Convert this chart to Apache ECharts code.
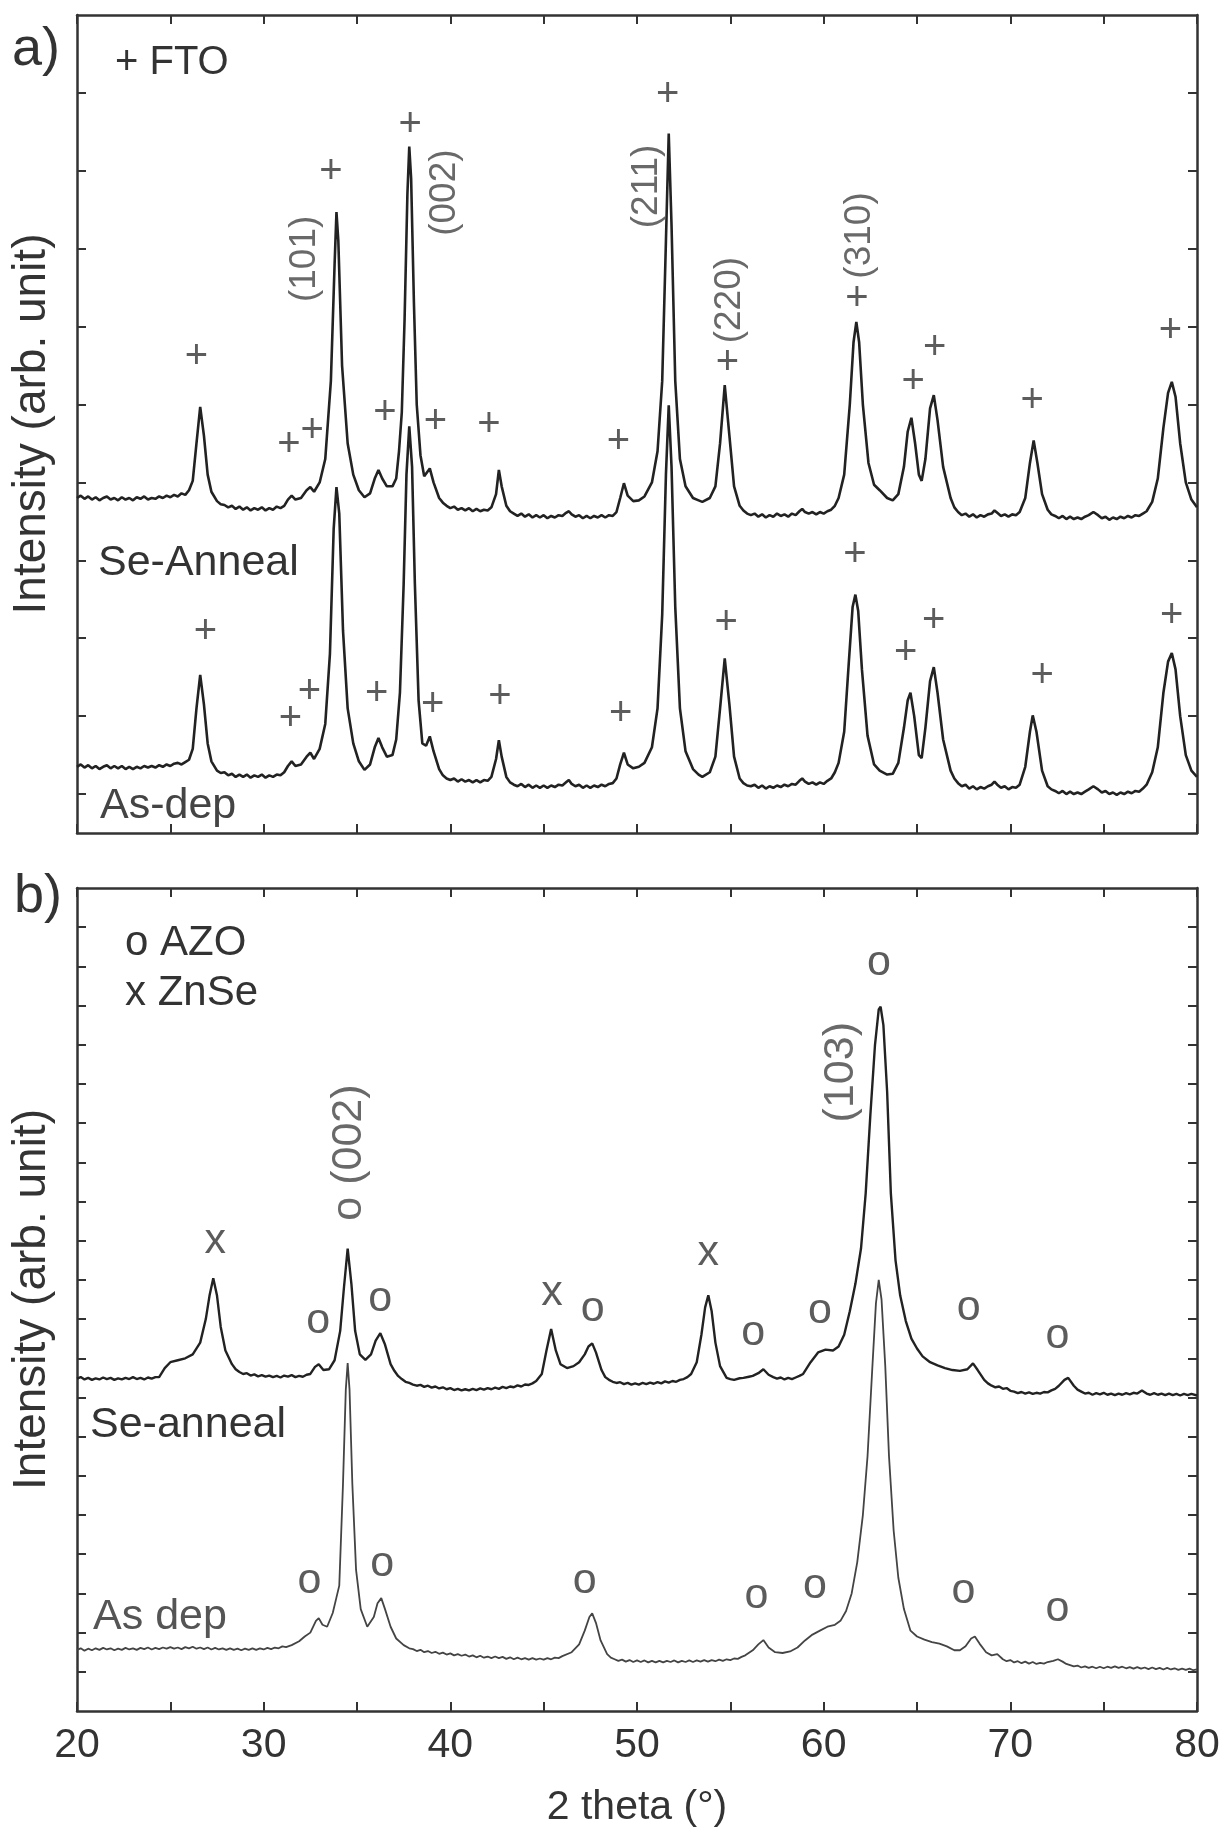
<!DOCTYPE html>
<html>
<head>
<meta charset="utf-8">
<title>XRD</title>
<style>
  html, body { margin: 0; padding: 0; background: #fff; }
</style>
</head>
<body>
<div id="container" style="width: 1225px;height:1829px;"></div>
<script src="https://cdn.jsdelivr.net/npm/echarts@6/dist/echarts.min.js"></script>
<script type="text/javascript">
'use strict'

// tick positions / labels
var xLabelValues = [20, 30, 40, 50, 60, 70, 80];
var yTicksA = [0.5, 1.5, 2.5, 3.5, 4.5, 5.5, 6.5, 7.5, 8.5, 9.5];
var yTicksB = [1, 2, 3, 4, 5, 6, 7, 8, 9, 10, 11, 12, 13, 14, 15, 16, 17, 18, 19, 20];

// panel a) FTO substrate, Se-Anneal (upper trace)
var seAnnealA = [
	[20.0, 4.30], [20.2, 4.33], [20.4, 4.29], [20.6, 4.32], [20.8, 4.28], [21.0, 4.31], [21.2, 4.27], [21.4, 4.30],
	[21.6, 4.32], [21.8, 4.28], [22.0, 4.30], [22.2, 4.27], [22.4, 4.31], [22.6, 4.28], [22.8, 4.30], [23.0, 4.27],
	[23.2, 4.31], [23.4, 4.29], [23.6, 4.32], [23.8, 4.28], [24.0, 4.30], [24.2, 4.29], [24.4, 4.32], [24.6, 4.30],
	[24.8, 4.33], [25.0, 4.31], [25.2, 4.34], [25.4, 4.32], [25.6, 4.36], [25.8, 4.34], [26.0, 4.40], [26.2, 4.52],
	[26.4, 5.0], [26.6, 5.47], [26.8, 5.1], [27.0, 4.6], [27.2, 4.38], [27.5, 4.26], [27.7, 4.22], [27.9, 4.21],
	[28.1, 4.18], [28.3, 4.2], [28.5, 4.16], [28.7, 4.19], [28.9, 4.15], [29.1, 4.18], [29.3, 4.14], [29.5, 4.17],
	[29.7, 4.15], [29.9, 4.18], [30.1, 4.14], [30.3, 4.17], [30.5, 4.15], [30.7, 4.19], [30.9, 4.17], [31.1, 4.2],
	[31.3, 4.28], [31.5, 4.33], [31.7, 4.28], [32.0, 4.3], [32.3, 4.4], [32.5, 4.44], [32.7, 4.38], [33.0, 4.5],
	[33.3, 4.8], [33.6, 5.8], [33.8, 7.3], [33.9, 7.97], [34.0, 7.6], [34.2, 6.0], [34.5, 5.0], [34.8, 4.6],
	[35.1, 4.4], [35.4, 4.31], [35.7, 4.36], [35.95, 4.55], [36.15, 4.66], [36.35, 4.55], [36.6, 4.45], [36.9, 4.45],
	[37.1, 4.55], [37.25, 4.9], [37.4, 5.4], [37.55, 6.6], [37.7, 8.2], [37.8, 8.81], [37.9, 8.4], [38.05, 6.8],
	[38.2, 5.5], [38.4, 4.85], [38.6, 4.58], [38.9, 4.68], [39.1, 4.5], [39.4, 4.3], [39.6, 4.24], [39.8, 4.2],
	[40.0, 4.17], [40.2, 4.19], [40.4, 4.15], [40.6, 4.17], [40.8, 4.14], [41.0, 4.17], [41.2, 4.13], [41.4, 4.16],
	[41.6, 4.13], [41.8, 4.15], [42.0, 4.14], [42.2, 4.18], [42.45, 4.35], [42.6, 4.66], [42.75, 4.45], [43.0, 4.2],
	[43.2, 4.13], [43.4, 4.1], [43.6, 4.07], [43.8, 4.1], [44.0, 4.06], [44.2, 4.09], [44.4, 4.05], [44.6, 4.08],
	[44.8, 4.05], [45.0, 4.08], [45.2, 4.04], [45.4, 4.07], [45.6, 4.05], [45.8, 4.08], [46.0, 4.07], [46.2, 4.11],
	[46.35, 4.13], [46.5, 4.09], [46.7, 4.06], [46.9, 4.08], [47.1, 4.04], [47.3, 4.07], [47.5, 4.04], [47.7, 4.07],
	[47.9, 4.05], [48.1, 4.08], [48.3, 4.05], [48.5, 4.08], [48.7, 4.07], [48.9, 4.12], [49.1, 4.3], [49.3, 4.49],
	[49.5, 4.33], [49.8, 4.26], [50.1, 4.27], [50.4, 4.32], [50.8, 4.5], [51.1, 4.9], [51.35, 5.8], [51.55, 7.6],
	[51.7, 8.98], [51.85, 7.8], [52.05, 5.8], [52.3, 4.8], [52.6, 4.45], [53.0, 4.3], [53.3, 4.27], [53.5, 4.25],
	[53.9, 4.3], [54.2, 4.45], [54.45, 5.0], [54.7, 5.75], [54.95, 5.1], [55.2, 4.45], [55.5, 4.2], [55.7, 4.14],
	[55.9, 4.1], [56.1, 4.08], [56.3, 4.1], [56.5, 4.06], [56.7, 4.09], [56.9, 4.05], [57.1, 4.08], [57.3, 4.06],
	[57.5, 4.1], [57.7, 4.07], [57.9, 4.09], [58.1, 4.06], [58.3, 4.1], [58.5, 4.08], [58.7, 4.13], [58.85, 4.16],
	[59.0, 4.12], [59.2, 4.1], [59.4, 4.12], [59.6, 4.09], [59.8, 4.12], [60.0, 4.1], [60.2, 4.13], [60.4, 4.15],
	[60.6, 4.2], [60.8, 4.3], [61.1, 4.6], [61.4, 5.5], [61.6, 6.3], [61.75, 6.56], [61.9, 6.3], [62.1, 5.5],
	[62.4, 4.75], [62.7, 4.47], [63.0, 4.4], [63.4, 4.3], [63.7, 4.27], [64.0, 4.35], [64.3, 4.7], [64.5, 5.15],
	[64.7, 5.33], [64.9, 5.0], [65.1, 4.6], [65.25, 4.52], [65.45, 4.8], [65.7, 5.45], [65.9, 5.62], [66.1, 5.3],
	[66.4, 4.7], [66.8, 4.3], [67.0, 4.18], [67.2, 4.12], [67.4, 4.08], [67.6, 4.1], [67.8, 4.06], [68.0, 4.09],
	[68.2, 4.05], [68.4, 4.08], [68.6, 4.06], [68.8, 4.09], [69.0, 4.1], [69.15, 4.14], [69.3, 4.11], [69.5, 4.07],
	[69.7, 4.09], [69.9, 4.06], [70.1, 4.09], [70.3, 4.08], [70.5, 4.12], [70.8, 4.3], [71.05, 4.75], [71.25, 5.04],
	[71.45, 4.75], [71.7, 4.35], [72.0, 4.15], [72.2, 4.09], [72.4, 4.07], [72.6, 4.04], [72.8, 4.07], [73.0, 4.03],
	[73.2, 4.06], [73.4, 4.03], [73.6, 4.05], [73.8, 4.03], [74.0, 4.06], [74.2, 4.08], [74.45, 4.12], [74.7, 4.08],
	[74.9, 4.04], [75.1, 4.06], [75.3, 4.02], [75.5, 4.05], [75.7, 4.03], [75.9, 4.06], [76.1, 4.04], [76.3, 4.07],
	[76.5, 4.05], [76.7, 4.08], [76.9, 4.07], [77.1, 4.1], [77.3, 4.13], [77.6, 4.25], [77.9, 4.55], [78.2, 5.2],
	[78.45, 5.65], [78.65, 5.79], [78.85, 5.6], [79.1, 5.0], [79.4, 4.5], [79.7, 4.28], [80.0, 4.18]
];

// panel a) As-dep (lower trace)
var asDepA = [
	[20.0, 0.85], [20.2, 0.88], [20.4, 0.84], [20.6, 0.87], [20.8, 0.83], [21.0, 0.86], [21.2, 0.82], [21.4, 0.85],
	[21.6, 0.87], [21.8, 0.83], [22.0, 0.86], [22.2, 0.83], [22.4, 0.86], [22.6, 0.82], [22.8, 0.85], [23.0, 0.82],
	[23.2, 0.85], [23.4, 0.83], [23.6, 0.86], [23.8, 0.84], [24.0, 0.86], [24.2, 0.84], [24.4, 0.87], [24.6, 0.85],
	[24.8, 0.88], [25.0, 0.86], [25.2, 0.89], [25.4, 0.9], [25.6, 0.88], [25.8, 0.91], [26.0, 0.94], [26.2, 1.08],
	[26.4, 1.6], [26.6, 2.03], [26.8, 1.65], [27.0, 1.15], [27.2, 0.92], [27.5, 0.8], [27.7, 0.77], [27.9, 0.78],
	[28.1, 0.74], [28.3, 0.76], [28.5, 0.72], [28.7, 0.75], [28.9, 0.72], [29.1, 0.75], [29.3, 0.71], [29.5, 0.74],
	[29.7, 0.72], [29.9, 0.75], [30.1, 0.71], [30.3, 0.74], [30.5, 0.72], [30.7, 0.75], [30.9, 0.74], [31.1, 0.78],
	[31.3, 0.86], [31.5, 0.92], [31.7, 0.86], [32.0, 0.88], [32.3, 0.98], [32.5, 1.03], [32.7, 0.95], [33.0, 1.08],
	[33.3, 1.4], [33.55, 2.3], [33.75, 3.9], [33.9, 4.44], [34.05, 4.1], [34.25, 2.6], [34.5, 1.6], [34.8, 1.15],
	[35.1, 0.92], [35.4, 0.81], [35.7, 0.88], [35.95, 1.1], [36.15, 1.22], [36.35, 1.1], [36.6, 0.98], [36.9, 1.0],
	[37.1, 1.2], [37.3, 1.8], [37.5, 3.2], [37.65, 4.6], [37.8, 5.22], [37.95, 4.7], [38.1, 3.2], [38.3, 1.7],
	[38.5, 1.15], [38.7, 1.12], [38.9, 1.24], [39.1, 1.05], [39.4, 0.82], [39.6, 0.74], [39.8, 0.7], [40.0, 0.68],
	[40.2, 0.7], [40.4, 0.66], [40.6, 0.69], [40.8, 0.66], [41.0, 0.68], [41.2, 0.65], [41.4, 0.68], [41.6, 0.65],
	[41.8, 0.68], [42.0, 0.67], [42.2, 0.72], [42.45, 0.95], [42.6, 1.19], [42.75, 0.98], [43.0, 0.72], [43.2, 0.65],
	[43.4, 0.62], [43.6, 0.6], [43.8, 0.63], [44.0, 0.59], [44.2, 0.62], [44.4, 0.58], [44.6, 0.61], [44.8, 0.58],
	[45.0, 0.61], [45.2, 0.58], [45.4, 0.61], [45.6, 0.59], [45.8, 0.62], [46.0, 0.61], [46.2, 0.65], [46.35, 0.68],
	[46.5, 0.63], [46.7, 0.6], [46.9, 0.62], [47.1, 0.58], [47.3, 0.61], [47.5, 0.58], [47.7, 0.61], [47.9, 0.59],
	[48.1, 0.62], [48.3, 0.6], [48.5, 0.63], [48.7, 0.64], [48.9, 0.7], [49.1, 0.88], [49.3, 1.03], [49.5, 0.88],
	[49.8, 0.83], [50.1, 0.85], [50.4, 0.9], [50.8, 1.1], [51.1, 1.6], [51.35, 2.8], [51.55, 4.6], [51.7, 5.49],
	[51.85, 4.7], [52.05, 2.9], [52.3, 1.6], [52.6, 1.05], [53.0, 0.82], [53.3, 0.75], [53.5, 0.72], [53.9, 0.78],
	[54.2, 0.98], [54.45, 1.6], [54.7, 2.24], [54.95, 1.65], [55.2, 0.98], [55.5, 0.7], [55.7, 0.64], [55.9, 0.61],
	[56.1, 0.6], [56.3, 0.62], [56.5, 0.58], [56.7, 0.61], [56.9, 0.57], [57.1, 0.6], [57.3, 0.58], [57.5, 0.61],
	[57.7, 0.59], [57.9, 0.62], [58.1, 0.6], [58.3, 0.63], [58.5, 0.62], [58.7, 0.67], [58.85, 0.7], [59.0, 0.66],
	[59.2, 0.63], [59.4, 0.65], [59.6, 0.62], [59.8, 0.65], [60.0, 0.63], [60.2, 0.67], [60.4, 0.7], [60.6, 0.78],
	[60.8, 0.9], [61.1, 1.3], [61.35, 2.2], [61.55, 2.9], [61.7, 3.06], [61.85, 2.85], [62.05, 2.1], [62.35, 1.25],
	[62.7, 0.88], [63.0, 0.8], [63.4, 0.75], [63.7, 0.76], [64.0, 0.9], [64.3, 1.35], [64.5, 1.7], [64.65, 1.8],
	[64.85, 1.5], [65.1, 1.0], [65.25, 0.96], [65.45, 1.35], [65.7, 1.95], [65.9, 2.13], [66.1, 1.8], [66.4, 1.2],
	[66.8, 0.8], [67.0, 0.7], [67.2, 0.64], [67.4, 0.6], [67.6, 0.62], [67.8, 0.57], [68.0, 0.6], [68.2, 0.56],
	[68.4, 0.59], [68.6, 0.57], [68.8, 0.6], [69.0, 0.62], [69.15, 0.66], [69.3, 0.62], [69.5, 0.58], [69.7, 0.6],
	[69.9, 0.56], [70.1, 0.59], [70.3, 0.58], [70.5, 0.62], [70.8, 0.85], [71.05, 1.3], [71.2, 1.51], [71.4, 1.3],
	[71.7, 0.8], [72.0, 0.6], [72.2, 0.56], [72.4, 0.54], [72.6, 0.51], [72.8, 0.54], [73.0, 0.5], [73.2, 0.53],
	[73.4, 0.5], [73.6, 0.52], [73.8, 0.5], [74.0, 0.53], [74.2, 0.56], [74.45, 0.6], [74.7, 0.56], [74.9, 0.52],
	[75.1, 0.54], [75.3, 0.5], [75.5, 0.52], [75.7, 0.49], [75.9, 0.52], [76.1, 0.5], [76.3, 0.53], [76.5, 0.51],
	[76.7, 0.54], [76.9, 0.53], [77.1, 0.57], [77.3, 0.62], [77.6, 0.78], [77.9, 1.1], [78.2, 1.8], [78.45, 2.2],
	[78.65, 2.31], [78.85, 2.1], [79.1, 1.5], [79.4, 1.0], [79.7, 0.8], [80.0, 0.72]
];

// panel b) AZO substrate, Se-anneal (upper trace)
var seAnnealB = [
	[20.0, 8.48], [20.2, 8.52], [20.4, 8.46], [20.6, 8.5], [20.8, 8.45], [21.0, 8.49], [21.2, 8.46], [21.4, 8.51],
	[21.6, 8.47], [21.8, 8.5], [22.0, 8.45], [22.2, 8.49], [22.4, 8.46], [22.6, 8.5], [22.8, 8.47], [23.0, 8.52],
	[23.2, 8.47], [23.4, 8.5], [23.6, 8.46], [23.8, 8.51], [24.0, 8.48], [24.2, 8.52], [24.4, 8.52], [24.7, 8.75],
	[25.0, 8.9], [25.4, 8.95], [25.8, 9.0], [26.2, 9.1], [26.6, 9.4], [26.9, 10.0], [27.1, 10.6], [27.3, 11.04],
	[27.5, 10.6], [27.7, 9.8], [27.95, 9.2], [28.3, 8.85], [28.5, 8.72], [28.7, 8.65], [28.9, 8.6], [29.1, 8.62],
	[29.3, 8.56], [29.5, 8.59], [29.7, 8.54], [29.9, 8.57], [30.1, 8.53], [30.3, 8.56], [30.5, 8.52], [30.7, 8.55],
	[30.9, 8.51], [31.1, 8.56], [31.3, 8.53], [31.5, 8.57], [31.7, 8.52], [31.9, 8.55], [32.1, 8.53], [32.3, 8.58],
	[32.5, 8.6], [32.75, 8.78], [32.95, 8.85], [33.2, 8.7], [33.5, 8.72], [33.8, 8.95], [34.1, 9.7], [34.3, 10.8],
	[34.5, 11.8], [34.7, 10.9], [34.9, 9.7], [35.15, 9.1], [35.45, 8.96], [35.75, 9.1], [36.0, 9.45], [36.25, 9.64],
	[36.5, 9.35], [36.8, 8.85], [37.0, 8.68], [37.2, 8.55], [37.4, 8.47], [37.6, 8.4], [37.8, 8.37], [38.0, 8.33],
	[38.2, 8.3], [38.4, 8.32], [38.6, 8.27], [38.8, 8.3], [39.0, 8.25], [39.2, 8.28], [39.4, 8.23], [39.6, 8.26],
	[39.8, 8.21], [40.0, 8.24], [40.2, 8.19], [40.4, 8.22], [40.6, 8.18], [40.8, 8.21], [41.0, 8.18], [41.2, 8.22],
	[41.4, 8.19], [41.6, 8.23], [41.8, 8.2], [42.0, 8.24], [42.2, 8.21], [42.4, 8.25], [42.6, 8.22], [42.8, 8.27],
	[43.0, 8.24], [43.2, 8.28], [43.4, 8.26], [43.6, 8.31], [43.8, 8.28], [44.0, 8.33], [44.2, 8.32], [44.4, 8.36],
	[44.6, 8.42], [44.9, 8.6], [45.15, 9.2], [45.4, 9.75], [45.65, 9.2], [45.9, 8.85], [46.25, 8.75], [46.6, 8.8],
	[46.9, 8.9], [47.2, 9.1], [47.4, 9.3], [47.6, 9.38], [47.8, 9.15], [48.1, 8.7], [48.3, 8.52], [48.5, 8.45],
	[48.7, 8.4], [48.9, 8.37], [49.1, 8.39], [49.3, 8.34], [49.5, 8.37], [49.7, 8.33], [49.9, 8.36], [50.1, 8.33],
	[50.3, 8.37], [50.5, 8.34], [50.7, 8.38], [50.9, 8.35], [51.1, 8.39], [51.3, 8.36], [51.5, 8.41], [51.7, 8.38],
	[51.9, 8.42], [52.1, 8.4], [52.3, 8.45], [52.5, 8.47], [52.7, 8.52], [52.9, 8.6], [53.2, 8.9], [53.45, 9.6],
	[53.65, 10.3], [53.82, 10.61], [54.0, 10.2], [54.2, 9.4], [54.45, 8.8], [54.8, 8.5], [55.0, 8.47], [55.2, 8.45],
	[55.5, 8.49], [55.7, 8.5], [56.0, 8.53], [56.2, 8.55], [56.5, 8.62], [56.77, 8.72], [57.05, 8.58], [57.3, 8.52],
	[57.5, 8.48], [57.7, 8.51], [57.9, 8.46], [58.1, 8.5], [58.3, 8.47], [58.5, 8.51], [58.7, 8.55], [58.9, 8.6],
	[59.3, 8.9], [59.7, 9.15], [60.1, 9.22], [60.5, 9.2], [60.8, 9.3], [61.1, 9.6], [61.4, 10.2], [61.7, 10.9],
	[62.0, 11.8], [62.25, 13.2], [62.5, 15.2], [62.75, 17.0], [62.95, 17.9], [63.05, 17.97], [63.2, 17.5], [63.4, 15.8],
	[63.6, 13.2], [63.85, 11.5], [64.1, 10.6], [64.4, 9.95], [64.7, 9.5], [65.0, 9.25], [65.3, 9.05], [65.7, 8.9],
	[66.1, 8.82], [66.5, 8.75], [66.9, 8.7], [67.3, 8.68], [67.7, 8.72], [68.0, 8.87], [68.25, 8.7], [68.6, 8.45],
	[68.8, 8.36], [69.0, 8.3], [69.2, 8.26], [69.4, 8.28], [69.6, 8.22], [69.8, 8.24], [70.0, 8.17], [70.2, 8.15],
	[70.4, 8.11], [70.6, 8.14], [70.8, 8.1], [71.0, 8.13], [71.2, 8.09], [71.4, 8.12], [71.6, 8.1], [71.8, 8.14],
	[72.0, 8.13], [72.2, 8.18], [72.4, 8.22], [72.6, 8.3], [72.9, 8.45], [73.1, 8.5], [73.4, 8.3], [73.6, 8.2],
	[73.8, 8.15], [74.0, 8.1], [74.2, 8.12], [74.4, 8.07], [74.6, 8.11], [74.8, 8.08], [75.0, 8.12], [75.2, 8.07],
	[75.4, 8.1], [75.6, 8.06], [75.8, 8.1], [76.0, 8.07], [76.2, 8.11], [76.4, 8.08], [76.6, 8.12], [76.8, 8.1],
	[77.05, 8.18], [77.3, 8.1], [77.5, 8.07], [77.7, 8.11], [77.9, 8.07], [78.1, 8.1], [78.3, 8.06], [78.5, 8.1],
	[78.7, 8.06], [78.9, 8.09], [79.1, 8.05], [79.3, 8.09], [79.5, 8.06], [79.7, 8.09], [80.0, 8.05]
];

// panel b) As dep (lower trace)
var asDepB = [
	[20.0, 1.56], [20.2, 1.6], [20.4, 1.54], [20.6, 1.59], [20.8, 1.55], [21.0, 1.6], [21.2, 1.56], [21.4, 1.61],
	[21.6, 1.57], [21.8, 1.6], [22.0, 1.55], [22.2, 1.59], [22.4, 1.56], [22.6, 1.61], [22.8, 1.57], [23.0, 1.6],
	[23.2, 1.56], [23.4, 1.61], [23.6, 1.58], [23.8, 1.62], [24.0, 1.57], [24.2, 1.61], [24.4, 1.58], [24.6, 1.62],
	[24.8, 1.59], [25.0, 1.63], [25.2, 1.59], [25.4, 1.62], [25.6, 1.58], [25.8, 1.63], [26.0, 1.6], [26.2, 1.64],
	[26.4, 1.59], [26.6, 1.62], [26.8, 1.58], [27.0, 1.62], [27.2, 1.57], [27.4, 1.61], [27.6, 1.57], [27.8, 1.6],
	[28.0, 1.56], [28.2, 1.6], [28.4, 1.56], [28.6, 1.59], [28.8, 1.55], [29.0, 1.59], [29.2, 1.56], [29.4, 1.6],
	[29.6, 1.56], [29.8, 1.6], [30.0, 1.57], [30.2, 1.61], [30.4, 1.58], [30.6, 1.62], [30.8, 1.6], [31.0, 1.65],
	[31.2, 1.63], [31.5, 1.68], [31.9, 1.78], [32.2, 1.9], [32.5, 2.0], [32.8, 2.3], [32.95, 2.37], [33.15, 2.2],
	[33.4, 2.15], [33.7, 2.5], [33.9, 2.9], [34.05, 3.2], [34.25, 5.8], [34.4, 8.2], [34.5, 8.88], [34.6, 8.2],
	[34.75, 5.8], [34.95, 3.6], [35.2, 2.6], [35.55, 2.15], [35.9, 2.4], [36.1, 2.75], [36.3, 2.88], [36.5, 2.6],
	[36.8, 2.15], [37.1, 1.85], [37.5, 1.68], [37.8, 1.6], [38.0, 1.58], [38.2, 1.53], [38.4, 1.56], [38.6, 1.5],
	[38.8, 1.53], [39.0, 1.48], [39.2, 1.51], [39.4, 1.46], [39.6, 1.49], [39.8, 1.44], [40.0, 1.47], [40.2, 1.42],
	[40.4, 1.45], [40.6, 1.41], [40.8, 1.44], [41.0, 1.39], [41.2, 1.42], [41.4, 1.37], [41.6, 1.41], [41.8, 1.36],
	[42.0, 1.39], [42.2, 1.35], [42.4, 1.39], [42.6, 1.35], [42.8, 1.38], [43.0, 1.33], [43.2, 1.37], [43.4, 1.32],
	[43.6, 1.36], [43.8, 1.32], [44.0, 1.35], [44.2, 1.31], [44.4, 1.35], [44.6, 1.31], [44.8, 1.34], [45.0, 1.31],
	[45.2, 1.35], [45.4, 1.32], [45.6, 1.36], [45.8, 1.35], [46.0, 1.4], [46.5, 1.5], [46.9, 1.7], [47.2, 2.05],
	[47.45, 2.4], [47.6, 2.49], [47.8, 2.25], [48.05, 1.8], [48.4, 1.45], [48.6, 1.36], [48.8, 1.32], [49.0, 1.28],
	[49.2, 1.31], [49.4, 1.26], [49.6, 1.3], [49.8, 1.25], [50.0, 1.29], [50.2, 1.25], [50.4, 1.29], [50.6, 1.24],
	[50.8, 1.28], [51.0, 1.24], [51.2, 1.28], [51.4, 1.24], [51.6, 1.28], [51.8, 1.25], [52.0, 1.29], [52.2, 1.24],
	[52.4, 1.28], [52.6, 1.25], [52.8, 1.29], [53.0, 1.25], [53.2, 1.29], [53.4, 1.26], [53.6, 1.3], [53.8, 1.26],
	[54.0, 1.3], [54.2, 1.27], [54.4, 1.31], [54.6, 1.28], [54.8, 1.32], [55.0, 1.3], [55.2, 1.34], [55.4, 1.33],
	[55.6, 1.38], [55.8, 1.42], [56.2, 1.55], [56.5, 1.7], [56.77, 1.81], [57.05, 1.62], [57.4, 1.5], [57.8, 1.48],
	[58.2, 1.52], [58.6, 1.62], [59.0, 1.8], [59.4, 1.95], [59.8, 2.05], [60.2, 2.15], [60.6, 2.2], [60.9, 2.3],
	[61.2, 2.55], [61.5, 3.0], [61.8, 3.8], [62.1, 5.0], [62.35, 6.5], [62.6, 8.7], [62.8, 10.4], [62.95, 11.0],
	[63.1, 10.5], [63.3, 8.8], [63.5, 6.5], [63.75, 4.6], [64.0, 3.4], [64.3, 2.6], [64.65, 2.05], [65.0, 1.9],
	[65.4, 1.82], [65.8, 1.76], [66.2, 1.72], [66.6, 1.65], [67.0, 1.55], [67.3, 1.55], [67.6, 1.65], [67.9, 1.85],
	[68.1, 1.9], [68.35, 1.72], [68.7, 1.5], [69.0, 1.42], [69.3, 1.45], [69.6, 1.32], [69.8, 1.27], [70.0, 1.3],
	[70.2, 1.24], [70.4, 1.27], [70.6, 1.22], [70.8, 1.26], [71.0, 1.21], [71.2, 1.25], [71.4, 1.2], [71.6, 1.23],
	[71.8, 1.21], [72.0, 1.25], [72.3, 1.28], [72.55, 1.32], [72.8, 1.26], [73.0, 1.2], [73.2, 1.17], [73.4, 1.14],
	[73.6, 1.16], [73.8, 1.11], [74.0, 1.14], [74.2, 1.1], [74.4, 1.13], [74.6, 1.09], [74.8, 1.13], [75.0, 1.09],
	[75.2, 1.13], [75.4, 1.1], [75.6, 1.14], [75.8, 1.1], [76.0, 1.13], [76.2, 1.09], [76.4, 1.12], [76.6, 1.08],
	[76.8, 1.12], [77.0, 1.08], [77.2, 1.11], [77.4, 1.07], [77.6, 1.11], [77.8, 1.07], [78.0, 1.1], [78.2, 1.06],
	[78.4, 1.1], [78.6, 1.06], [78.8, 1.09], [79.0, 1.05], [79.2, 1.08], [79.4, 1.05], [79.6, 1.08], [79.8, 1.04],
	[80.0, 1.06]
];

// peak markers: "+" FTO in panel a
var plusA = [
	[26.4, 6.11], [31.35, 4.98], [32.6, 5.16], [33.6, 8.48], [36.5, 5.39], [37.85, 9.09], [39.2, 5.28], [42.07, 5.24],
	[49.0, 5.02], [51.64, 9.47], [54.84, 6.03], [61.78, 6.86], [64.8, 5.79], [65.95, 6.22], [71.17, 5.54], [78.58, 6.44],
	[26.88, 2.58], [31.44, 1.47], [32.45, 1.81], [36.05, 1.79], [39.06, 1.64], [42.66, 1.75], [49.12, 1.53],
	[54.78, 2.69], [61.67, 3.57], [64.4, 2.31], [65.9, 2.72], [71.7, 2.02], [78.65, 2.79]
];
// hkl labels panel a: [text, 2theta, y]
var hklA = [['(101)', 32.2, 7.37], ['(002)', 39.7, 8.22], ['(211)', 50.5, 8.3], ['(220)', 54.95, 6.84], ['(310)', 61.93, 7.67]];

// panel b markers: "o" AZO, "x" ZnSe
var circB = [
	[32.92, 9.85], [36.24, 10.4], [47.63, 10.15], [56.23, 9.55], [59.8, 10.1], [62.96, 18.99], [67.77, 10.19], [72.52, 9.47],
	[32.45, 3.22], [36.35, 3.64], [47.2, 3.22], [56.4, 2.83], [59.54, 3.09], [67.49, 2.96], [72.52, 2.49]
];
var crossB = [[27.41, 11.89], [45.45, 10.57], [53.82, 11.59]];
var hklB = [['o (002)', 34.6, 14.25], ['(103)', 60.92, 16.3]];

var FONT = 'Liberation Sans, Arial, Helvetica, sans-serif';
var TXT = '#333';
var HIDE = 'rgba(0,0,0,0)';

function lbl(arr) {
	return arr.map(function (d) { return { name: d[0], value: [d[1], d[2]] }; });
}

function markSeries(xi, data, ch, size, dy) {
	return {
		type: 'scatter', xAxisIndex: xi, yAxisIndex: xi, data: data, silent: true,
		symbolSize: 1, itemStyle: { color: HIDE },
		label: {
			show: true, position: 'inside', formatter: ch, offset: [0, dy],
			fontFamily: FONT, fontSize: size, color: TXT, align: 'center', verticalAlign: 'middle'
		},
		z: 5
	};
}

function textSeries(xi, data, size) {
	return {
		type: 'scatter', xAxisIndex: xi, yAxisIndex: xi, data: lbl(data), silent: true,
		symbolSize: 1, itemStyle: { color: HIDE },
		label: {
			show: true, position: 'inside', formatter: '{b}', rotate: 90,
			fontFamily: FONT, fontSize: size, color: '#444', align: 'center', verticalAlign: 'middle'
		},
		z: 5
	};
}

function lineSeries(xi, data, color, width) {
	return {
		type: 'line', xAxisIndex: xi, yAxisIndex: xi, data: data, showSymbol: false, silent: true,
		lineStyle: { color: color, width: width }, z: 3
	};
}

var frameLine = { show: true, onZero: false, lineStyle: { color: '#333', width: 2.5 } };
var tickLine = { color: '#333', width: 2 };

function xAxisDef(gi, pos, labels) {
	return {
		type: 'value', gridIndex: gi, position: pos, min: 20, max: 80, interval: 5,
		axisLine: frameLine,
		axisTick: { show: true, inside: true, length: 9, lineStyle: tickLine },
		axisLabel: {
			show: labels, margin: 14, fontFamily: FONT, fontSize: 41, color: TXT,
			formatter: function (v) { return xLabelValues.indexOf(v) >= 0 ? String(v) : ''; }
		},
		splitLine: { show: false }
	};
}

function yAxisDef(gi, pos, max, ticks) {
	return {
		type: 'value', gridIndex: gi, position: pos, min: 0, max: max,
		axisLine: frameLine,
		axisTick: { show: true, inside: true, length: 9, customValues: ticks, lineStyle: tickLine },
		axisLabel: { show: false },
		splitLine: { show: false }
	};
}

var myCharts = echarts.init(document.getElementById('container'));

var xa0 = xAxisDef(0, 'bottom', false);
var xa2 = xAxisDef(1, 'bottom', true);
xa2.name = '2 theta (°)';
xa2.nameLocation = 'middle';
xa2.nameGap = 76;
xa2.nameTextStyle = { fontFamily: FONT, fontSize: 41, color: TXT };

var ya0 = yAxisDef(0, 'left', 10.5, yTicksA);
var ya2 = yAxisDef(1, 'left', 21, yTicksB);
[ya0, ya2].forEach(function (a) {
	a.name = 'Intensity (arb. unit)';
	a.nameLocation = 'middle';
	a.nameRotate = 90;
	a.nameGap = 22;
	a.nameTextStyle = { fontFamily: FONT, fontSize: 46, color: TXT };
});

function gtext(x, y, s, size, color) {
	return {
		type: 'text', left: x, top: y - size / 2,
		style: { text: s, fontFamily: FONT, fontSize: size, fill: color || TXT }
	};
}

var option = {
	animation: false,
	backgroundColor: '#fff',
	grid: [
		{ left: 77, top: 15, width: 1120, height: 818 },
		{ left: 77, top: 888, width: 1120, height: 823 }
	],
	xAxis: [xa0, xAxisDef(0, 'top', false), xa2, xAxisDef(1, 'top', false)],
	yAxis: [ya0, yAxisDef(0, 'right', 10.5, yTicksA), ya2, yAxisDef(1, 'right', 21, yTicksB)],
	graphic: [
		gtext(12, 50, 'a)', 54),
		gtext(14, 897, 'b)', 54),
		gtext(115, 63, '+ FTO', 40),
		gtext(125, 943, 'o AZO', 42),
		gtext(125, 993, 'x ZnSe', 42),
		gtext(98, 563, 'Se-Anneal', 43),
		gtext(100, 806, 'As-dep', 43, '#444'),
		gtext(90, 1425, 'Se-anneal', 43),
		gtext(93, 1617, 'As dep', 43, '#555')
	],
	series: [
		lineSeries(0, seAnnealA, '#222', 2.6),
		lineSeries(0, asDepA, '#222', 2.6),
		markSeries(0, plusA, '+', 40, 0),
		textSeries(0, hklA, 37),
		lineSeries(2, seAnnealB, '#222', 2.4),
		lineSeries(2, asDepB, '#444', 1.8),
		markSeries(2, circB, 'o', 43, -4),
		markSeries(2, crossB, 'x', 43, -4),
		textSeries(2, hklB, 43)
	]
};
// panel b series use axis index 2 (grid 1)
myCharts.setOption(option);
</script>
</body>
</html>
